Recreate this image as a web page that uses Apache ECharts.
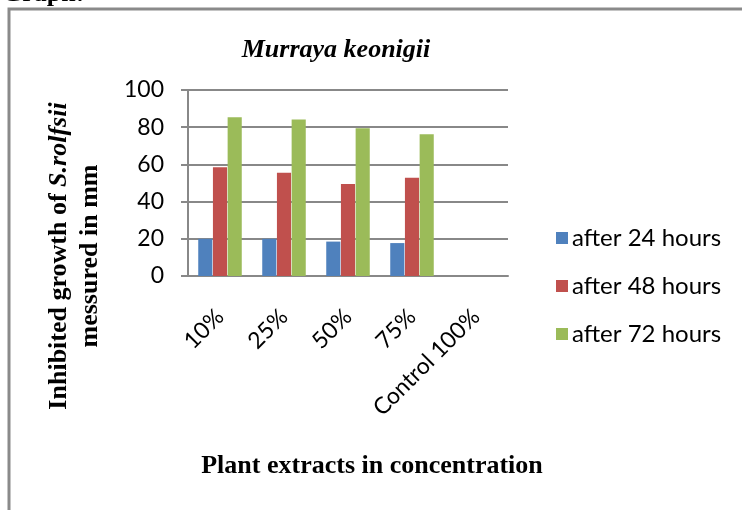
<!DOCTYPE html>
<html>
<head>
<meta charset="utf-8">
<script src="https://cdn.jsdelivr.net/npm/echarts@6/dist/echarts.min.js"></script>
<style>
  html, body { margin: 0; padding: 0; background: #fff; }
  #chart { width: 742px; height: 510px; }
</style>
</head>
<body>
<div id="chart"></div>
<script>
// values
const categories = ['10%', '25%', '50%', '75%', 'Control 100%']
const after24 = [20, 20, 18.5, 17.7, 0]
const after48 = [58.5, 55.5, 49.5, 52.8, 0]
const after72 = [85.3, 84.2, 79.5, 76.2, 0]
const seriesNames = ['after 24 hours', 'after 48 hours', 'after 72 hours']
const colors = ['#4F81BD', '#C0504D', '#9BBB59']

const sans = 'Lato'
const serif = '"Liberation Serif", "Times New Roman", serif'

const chart = echarts.init(document.getElementById('chart'))

const makeBar = (name, data, color) => ({
  name,
  type: 'bar',
  data,
  barGap: '4%',
  barCategoryGap: '32%',
  itemStyle: { color },
})

chart.setOption({
  animation: false,
  color: colors,
  title: {
    text: 'Murraya keonigii',
    left: 331,
    top: 32,
    textAlign: 'center',
    textStyle: { fontFamily: serif, fontSize: 26, fontWeight: 'bold', fontStyle: 'italic', color: '#000' },
  },
  legend: {
    orient: 'vertical',
    left: 551,
    top: 221,
    itemWidth: 12,
    itemHeight: 12,
    itemGap: 24,
    icon: 'rect',
    textStyle: { fontFamily: sans, fontSize: 24, color: '#000', padding: [0, 0, 0, -1] },
    data: seriesNames,
  },
  grid: { left: 188, right: 234, top: 90, bottom: 234 },
  xAxis: {
    type: 'category',
    data: categories,
    axisLine: { lineStyle: { color: '#888', width: 2 } },
    axisTick: { length: 7, lineStyle: { color: '#888', width: 2 } },
    axisLabel: { rotate: 45, margin: 37, interval: 0, fontFamily: sans, fontSize: 23, color: '#000' },
  },
  yAxis: {
    type: 'value',
    min: 0,
    max: 100,
    interval: 20,
    axisLine: { show: true, lineStyle: { color: '#888', width: 2 } },
    axisTick: { show: true, length: 7, lineStyle: { color: '#888', width: 2 } },
    splitLine: { lineStyle: { color: '#888', width: 2 } },
    axisLabel: { margin: 24, fontFamily: sans, fontSize: 23, color: '#000' },
  },
  graphic: [
    {
      type: 'rect',
      shape: { x: 9, y: 9, width: 760, height: 540 },
      style: { fill: 'none', stroke: '#8a8a8a', lineWidth: 3 },
      silent: true,
    },
    {
      type: 'text',
      x: 2,
      y: 7,
      style: { text: 'Graph:', textVerticalAlign: 'bottom', font: 'bold 26px ' + serif, fill: '#000' },
    },
    {
      type: 'text',
      x: 372,
      y: 466,
      style: {
        text: 'Plant extracts in concentration',
        textAlign: 'center',
        textVerticalAlign: 'middle',
        font: 'bold 26px ' + serif,
        fill: '#000',
      },
    },
    {
      type: 'text',
      x: 75,
      y: 256,
      rotation: Math.PI / 2,
      style: {
        text: '{b|Inhibited growth of }{i|S.rolfsii}\n{b|messured in mm}',
        textAlign: 'center',
        textVerticalAlign: 'middle',
        lineHeight: 31,
        rich: {
          b: { fontFamily: serif, fontSize: 26, fontWeight: 'bold', fill: '#000', lineHeight: 31 },
          i: { fontFamily: serif, fontSize: 26, fontWeight: 'bold', fontStyle: 'italic', fill: '#000', lineHeight: 31 },
        },
      },
    },
  ],
  series: [
    makeBar(seriesNames[0], after24, colors[0]),
    makeBar(seriesNames[1], after48, colors[1]),
    makeBar(seriesNames[2], after72, colors[2]),
  ],
})
</script>
</body>
</html>
